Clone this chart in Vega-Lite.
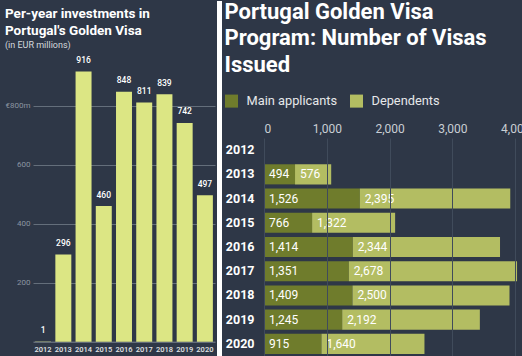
{
  "$schema": "https://vega.github.io/schema/vega-lite/v6.json",
  "background": "#2e3747",
  "padding": {"left": 5, "top": 0, "right": 0, "bottom": 0},
  "spacing": 2,
  "resolve": {"legend": {"color": "independent"}, "scale": {"color": "independent"}},
  "config": {"font": "Roboto", "view": {"stroke": null}},
  "hconcat": [
    {
      "width": 182,
      "height": 203.7,
      "title": {
        "text": ["Per-year investments in", "Portugal's Golden Visa"],
        "subtitle": "(in EUR millions)",
        "anchor": "start",
        "frame": "bounds",
        "fontSize": 13.5,
        "lineHeight": 17,
        "fontWeight": "bold",
        "color": "#ffffff",
        "subtitleFontSize": 9,
        "subtitleColor": "#d5d9de",
        "subtitlePadding": 4,
        "offset": 6
      },
      "data": {
        "values": [
          {"year": "2012", "amount": 1},
          {"year": "2013", "amount": 296},
          {"year": "2014", "amount": 916},
          {"year": "2015", "amount": 460},
          {"year": "2016", "amount": 848},
          {"year": "2017", "amount": 811},
          {"year": "2018", "amount": 839},
          {"year": "2019", "amount": 742},
          {"year": "2020", "amount": 497}
        ]
      },
      "encoding": {
        "x": {
          "field": "year",
          "type": "ordinal",
          "title": null,
          "scale": {"paddingInner": 0.21, "paddingOuter": 0.105},
          "axis": {"labelAngle": 0, "labelColor": "#e4e6e8", "labelFontSize": 7.5, "labelFontWeight": 500, "ticks": false, "domainColor": "#7c8592", "labelPadding": 4}
        },
        "y": {
          "field": "amount",
          "type": "quantitative",
          "title": null,
          "scale": {"domain": [0, 970], "range": [203.7, -82.3], "nice": false},
          "axis": {"values": [200, 400, 600, 800], "labelExpr": "datum.value == 800 ? '€800m' : datum.label", "labelColor": "#8b95a1", "labelFontSize": 8, "gridColor": "#646e7b", "domain": false, "ticks": false, "labelPadding": 3}
        }
      },
      "layer": [
        {"mark": {"type": "bar", "color": "#dce684"}},
        {"mark": {"type": "text", "dy": -11.5, "color": "#ffffff", "fontSize": 8.5, "fontWeight": 500}, "encoding": {"text": {"field": "amount", "type": "quantitative"}}}
      ]
    },
    {
      "width": 5,
      "height": 219,
      "data": {"values": [{"start": 0, "end": 1}]},
      "mark": {"type": "rect", "color": "#ffffff"},
      "encoding": {
        "y": {"field": "start", "type": "quantitative", "title": null, "axis": null, "scale": {"domain": [0, 1], "range": [219, -137], "nice": false}},
        "y2": {"field": "end"}
      }
    },
    {
      "width": 257.5,
      "height": 218,
      "title": {
        "text": ["Portugal Golden Visa", "Program: Number of Visas", "Issued"],
        "anchor": "start",
        "frame": "bounds",
        "fontSize": 22,
        "lineHeight": 26.7,
        "fontWeight": "bold",
        "color": "#ffffff",
        "offset": 17
      },
      "data": {
        "values": [
          {"year": "2012", "type": "Main applicants", "k": 0, "value": 2},
          {"year": "2012", "type": "Dependents", "k": 1, "value": 0},
          {"year": "2013", "type": "Main applicants", "k": 0, "value": 494},
          {"year": "2013", "type": "Dependents", "k": 1, "value": 576},
          {"year": "2014", "type": "Main applicants", "k": 0, "value": 1526},
          {"year": "2014", "type": "Dependents", "k": 1, "value": 2395},
          {"year": "2015", "type": "Main applicants", "k": 0, "value": 766},
          {"year": "2015", "type": "Dependents", "k": 1, "value": 1322},
          {"year": "2016", "type": "Main applicants", "k": 0, "value": 1414},
          {"year": "2016", "type": "Dependents", "k": 1, "value": 2344},
          {"year": "2017", "type": "Main applicants", "k": 0, "value": 1351},
          {"year": "2017", "type": "Dependents", "k": 1, "value": 2678},
          {"year": "2018", "type": "Main applicants", "k": 0, "value": 1409},
          {"year": "2018", "type": "Dependents", "k": 1, "value": 2500},
          {"year": "2019", "type": "Main applicants", "k": 0, "value": 1245},
          {"year": "2019", "type": "Dependents", "k": 1, "value": 2192},
          {"year": "2020", "type": "Main applicants", "k": 0, "value": 915},
          {"year": "2020", "type": "Dependents", "k": 1, "value": 1640}
        ]
      },
      "transform": [
        {"stack": "value", "groupby": ["year"], "sort": [{"field": "k", "order": "ascending"}], "as": ["v0", "v1"]}
      ],
      "encoding": {
        "y": {
          "field": "year",
          "type": "ordinal",
          "title": null,
          "scale": {"paddingInner": 0.17, "paddingOuter": 0.085},
          "axis": {"labelColor": "#ffffff", "labelFontSize": 12.5, "labelFontWeight": "bold", "ticks": false, "domain": false, "labelPadding": 10}
        }
      },
      "layer": [
        {
          "mark": {"type": "bar"},
          "encoding": {
            "x": {
              "field": "v0",
              "type": "quantitative",
              "title": null,
              "scale": {"domain": [0, 4100], "nice": false},
              "axis": {"orient": "top", "values": [0, 1000, 2000, 3000, 4000], "format": ",.0f", "labelColor": "#c9ced4", "labelFontSize": 12, "ticks": false, "domain": false, "gridColor": "#404b5b", "zindex": 1, "labelPadding": 3}
            },
            "x2": {"field": "v1"},
            "color": {
              "field": "type",
              "type": "nominal",
              "scale": {"domain": ["Main applicants", "Dependents"], "range": ["#6f7c2c", "#b3bd62"]},
              "legend": {"title": null, "orient": "none", "legendX": -39.5, "legendY": -44, "direction": "horizontal", "symbolType": "square", "symbolSize": 170, "symbolStrokeWidth": 0, "symbolOpacity": 1, "labelColor": "#e6e8ea", "labelFontSize": 12.8, "labelOffset": 8, "columnPadding": 12, "padding": 0}
            }
          }
        },
        {
          "transform": [{"filter": "datum.value >= 100"}],
          "mark": {"type": "text", "align": "left", "dx": 5, "color": "#ffffff", "fontSize": 12},
          "encoding": {
            "x": {"field": "v0", "type": "quantitative"},
            "text": {"field": "value", "type": "quantitative", "format": ","}
          }
        }
      ]
    }
  ]
}
